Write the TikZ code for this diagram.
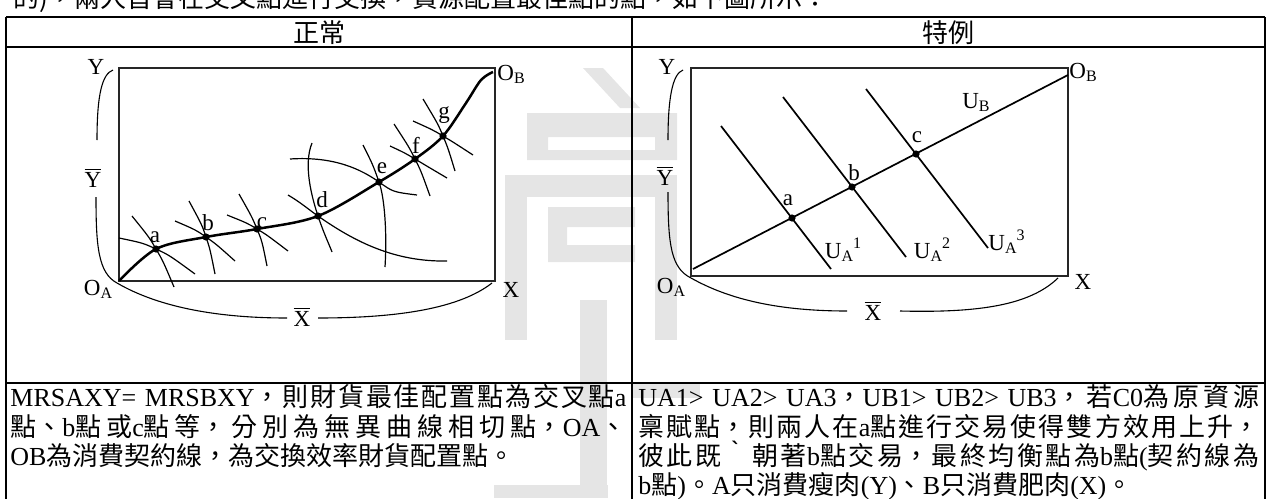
\documentclass[tikz,border=0pt]{standalone}
\usepackage{fontspec}
\setmainfont{Liberation Serif}
\newfontfamily\cjk{Noto Sans CJK TC}
\usetikzlibrary{calc}
\definecolor{wm}{gray}{0.9}
\newcommand\lsub[1]{\raisebox{-0.3ex}{\fontsize{8}{8}\selectfont #1}}
\newcommand\lsup[1]{\raisebox{0.9ex}{\fontsize{8}{8}\selectfont #1}}
\newcommand\Ybarlab{\(\overline{\hbox{Y}}\)}
\newcommand\Xbarlab{\(\overline{\hbox{X}}\)}
\newcommand\bodyset{\fontsize{13}{14.75}\selectfont\XeTeXlinebreaklocale "zh"\XeTeXlinebreakskip=0pt plus 5pt\XeTeXlinebreakpenalty=10000\relax\tolerance=10000\relax}
\newcommand\fulljust{\leftskip=0pt\rightskip=0pt\parfillskip=0pt\relax}
\newcommand\icarc[7]{\draw[ic] ([shift={(#2,#3)}]#1) .. controls ([shift={(-#4,-#5)}]#1) .. (#1) .. controls ([shift={(#4,#5)}]#1) .. ([shift={(#6,#7)}]#1);}
\begin{document}
\begin{tikzpicture}[x=0.5pt,y=-0.5pt,
  tbl/.style={line width=1.1pt},
  boxline/.style={line width=0.55pt, draw=black!85},
  ic/.style={line width=0.6pt},
  ccurve/.style={line width=1.25pt},
  rline/.style={line width=0.85pt},
  brace/.style={line width=0.55pt},
  dot/.style={circle, fill, inner sep=0pt, minimum size=3.6pt},
  lab/.style={font=\fontsize{11.5}{12}\selectfont, inner sep=0pt},
  hdr/.style={font=\fontsize{13}{14}\selectfont\cjk, inner sep=0pt},
  bline/.style={anchor=base west, inner sep=0pt, font=\bodyset}]
\useasboundingbox (0,0) rectangle (1269,498);
% watermark
\fill[wm] (583,68) -- (603,68) -- (640,108) -- (620,108) -- cycle;
\fill[wm, even odd rule] (527,113) rectangle (677,160) (548,137) rectangle (655,150);
\fill[wm] (505,175) rectangle (677,197);
\fill[wm] (505,197) rectangle (527,340);
\fill[wm] (655,197) rectangle (677,340);
\fill[wm, even odd rule] (548,207) rectangle (635,262) (567,227) rectangle (635,245);
\fill[wm] (580,300) rectangle (607,498);
\fill[wm] (494,485) rectangle (608,498);
\fill[wm] (632,383) rectangle (700,398);
% clipped top line
\node[anchor=base west, font=\fontsize{13}{14}\selectfont\cjk, inner sep=0pt] (topline) at (13,8) {的)，兩人皆會在交叉點進行交換，資源配置最佳點的點，如下圖所示：};
% table
\draw[tbl] (6,17) -- (1265,17);
\draw[tbl] (6,47) -- (1265,47);
\draw[tbl] (6,383) -- (1265,383);
\draw[tbl] (6,17) -- (6,500);
\draw[tbl] (632,17) -- (632,500);
\draw[tbl] (1265,17) -- (1265,500);
\node[hdr] (h1) at (319,33) {正常};
\node[hdr] (h2) at (948,33) {特例};
% ---------- left panel ----------
\draw[boxline] (119,68) rectangle (495,281);
\node[lab] (Yl) at (96,67) {Y};
\node[lab, anchor=west] (OBl) at (497,74) {O\lsub{B}};
\node[lab] (OAl) at (98,289) {O\lsub{A}};
\node[lab] (Xl) at (511,290) {X};
\node[lab] (Ybl) at (93,178) {\Ybarlab};
\node[lab] (Xbl) at (302,317) {\Xbarlab};
\coordinate (bl1) at (113,70);
\coordinate (bl2) at (97,140);
\coordinate (bl3) at (96,197);
\coordinate (bl4) at (117,283);
\coordinate (bl5) at (287,318);
\coordinate (bl6) at (318,318);
\coordinate (bl7) at (492,283);
\draw[brace] (bl1) .. controls (102,74) and (97,95) .. (bl2);
\draw[brace] (bl3) .. controls (96,245) and (98,273) .. (bl4) .. controls (160,308) and (220,318) .. (bl5);
\draw[brace] (bl6) .. controls (400,318) and (460,308) .. (bl7);
\coordinate (OAc) at (119,281);
\coordinate (pa) at (156,249);
\coordinate (pb) at (206,237);
\coordinate (pc) at (257,229);
\coordinate (pd) at (318,216);
\coordinate (pe) at (379,182);
\coordinate (pf) at (415,159);
\coordinate (pg) at (443,136);
\coordinate (pg2) at (466,103);
\coordinate (pg3) at (481,80);
\coordinate (OBc) at (493,72);
\icarc{pa}{-37}{-11}{13}{6}{39}{25}
\icarc{pa}{-24}{-33}{7}{12}{18}{38}
\icarc{pb}{-31}{-16}{10}{7}{29}{24}
\icarc{pb}{-17}{-36}{4}{12}{9}{37}
\icarc{pc}{-30}{-14}{10}{6}{31}{22}
\icarc{pc}{-18}{-35}{5}{12}{10}{37}
\icarc{pf}{-21}{-35}{6}{12}{15}{37}
\icarc{pf}{-25}{-13}{10}{6}{32}{19}
\icarc{pg}{-20}{-37}{5}{12}{12}{35}
\icarc{pg}{-30}{-15}{10}{6}{30}{19}
\draw[ic] (288,195) .. controls (300,202) and (308,209) .. (pd) .. controls (355,242) and (395,262) .. (447,261);
\draw[ic] (312,143) .. controls (303,165) and (312,198) .. (pd) .. controls (324,234) and (329,244) .. (332,252);
\draw[ic] (290,159) .. controls (335,156) and (362,170) .. (pe) .. controls (393,192) .. (417,195);
\draw[ic] (363,145) .. controls (373,165) .. (pe) .. controls (385,199) and (387,235) .. (385,267);
\draw[ccurve] plot[smooth, tension=0.55] coordinates {(OAc) (pa) (pb) (pc) (pd) (pe) (pf) (pg) (pg2) (pg3) (OBc)};
\foreach \p/\n in {pa/a,pb/b,pc/c,pd/d,pe/e,pf/f,pg/g} \node[dot] (\n) at (\p) {};
\node[lab, anchor=base] (la) at (155,242) {a};
\node[lab, anchor=base] (lb) at (208,230) {b};
\node[lab, anchor=base] (lc) at (262,228) {c};
\node[lab, anchor=base] (ld) at (322,207) {d};
\node[lab, anchor=base] (le) at (382,173) {e};
\node[lab, anchor=base] (lf) at (416,153) {f};
\node[lab, anchor=base] (lg) at (444,118) {g};
% ---------- right panel ----------
\draw[boxline] (691,68) rectangle (1068,276);
\node[lab] (Yr) at (667,67) {Y};
\node[lab, anchor=west] (OBr) at (1069,72) {O\lsub{B}};
\node[lab] (OAr) at (671,287) {O\lsub{A}};
\node[lab] (Xr) at (1083,282) {X};
\node[lab] (Ybr) at (665,176) {\Ybarlab};
\node[lab] (Xbr) at (873,311) {\Xbarlab};
\coordinate (br1) at (683,70);
\coordinate (br2) at (668,140);
\coordinate (br3) at (668,192);
\coordinate (br4) at (691,278);
\coordinate (br5) at (847,311);
\coordinate (br6) at (900,311);
\coordinate (br7) at (1058,278);
\draw[brace] (br1) .. controls (672,74) and (668,100) .. (br2);
\draw[brace] (br3) .. controls (668,245) and (671,268) .. (br4) .. controls (730,300) and (780,311) .. (br5);
\draw[brace] (br6) .. controls (980,313) and (1030,305) .. (br7);
\coordinate (cs) at (693,269);
\coordinate (ce) at (1068,75);
\draw[rline] (cs) -- (ce);
\coordinate (u1t) at (721,126); \coordinate (u1b) at (831,269);
\coordinate (u2t) at (783,97);  \coordinate (u2b) at (906,257);
\coordinate (u3t) at (866,89);  \coordinate (u3b) at (988,248);
\draw[rline] (u1t) -- (u1b);
\draw[rline] (u2t) -- (u2b);
\draw[rline] (u3t) -- (u3b);
\node[dot] (ra) at (792,218) {};
\node[dot] (rb) at (852,187) {};
\node[dot] (rc) at (916,154) {};
\node[lab, anchor=base] (rla) at (788,205) {a};
\node[lab, anchor=base] (rlb) at (854,180) {b};
\node[lab, anchor=base] (rlc) at (917,142) {c};
\node[lab, anchor=base] (ua1) at (843,258) {U\lsub{A}\lsup{1}};
\node[lab, anchor=base] (ua2) at (932,258) {U\lsub{A}\lsup{2}};
\node[lab, anchor=base west] (ua3) at (988,250) {U\lsub{A}\lsup{3}};
\node[lab, anchor=base] (ub) at (976,108) {U\lsub{B}};
% ---------- text rows (one node per printed line) ----------
\node[bline, text width=308pt] (tl1) at (10,406) {\fulljust MRSAXY= MRSBXY{\cjk ，則財貨最佳配置點為交叉點}a\par};
\node[bline, text width=308pt] (tl2) at (10,436) {\fulljust{\cjk 點、}b{\cjk 點或}c{\cjk 點等，分別為無異曲線相切點，}OA{\cjk 、}\par};
\node[bline] (tl3) at (10,465) {OB{\cjk 為消費契約線，為交換效率財貨配置點。}};
\node[bline, text width=310.5pt] (tr1) at (638,406) {\fulljust UA1> UA2> UA3{\cjk ，}UB1> UB2> UB3{\cjk ，若}C0{\cjk 為原資源}\par};
\node[bline, text width=310.5pt] (tr2) at (638,436) {\fulljust{\cjk 稟賦點，則兩人在}a{\cjk 點進行交易使得雙方效用上升，}\par};
\node[bline, text width=310.5pt] (tr3) at (638,465) {\fulljust{\cjk 彼此既｀朝著}b{\cjk 點交易，最終均衡點為}b{\cjk 點}({\cjk 契約線為}\par};
\node[bline] (tr4) at (638,494) {b{\cjk 點}){\cjk 。}A{\cjk 只消費瘦肉}(Y){\cjk 、}B{\cjk 只消費肥肉}(X){\cjk 。}};
\end{tikzpicture}
\end{document}
